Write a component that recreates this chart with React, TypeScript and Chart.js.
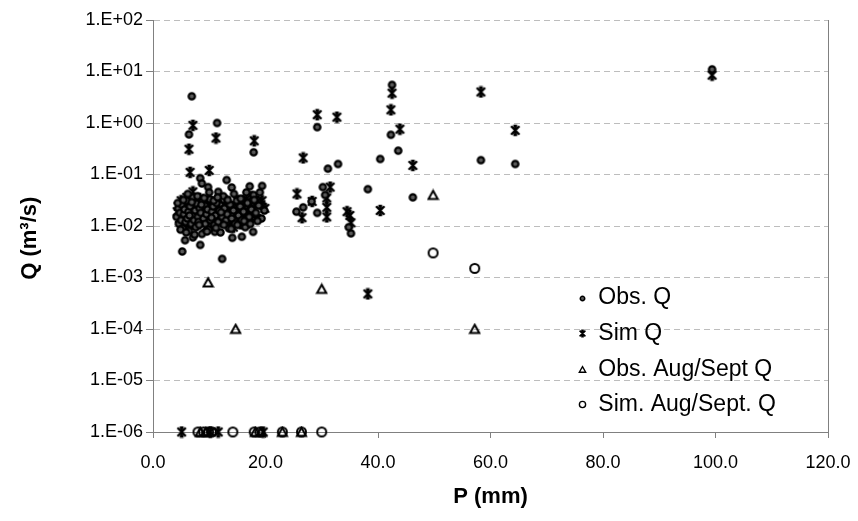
import React, { useEffect, useRef } from "react";
import { Chart, registerables } from "chart.js";

Chart.register(...registerables);

const FONT = '"Liberation Sans", Arial, Helvetica, sans-serif';

const xTickValues = [0, 20, 40, 60, 80, 100, 120];
const yTickValues = [1e-6, 1e-5, 1e-4, 1e-3, 1e-2, 1e-1, 1, 10, 100];
const yTickLabels = ["1.E-06", "1.E-05", "1.E-04", "1.E-03", "1.E-02", "1.E-01", "1.E+00", "1.E+01", "1.E+02"];
const seriesNames = ["Obs. Q", "Sim Q", "Obs. Aug/Sept Q", "Sim. Aug/Sept. Q"];

// Observed Q (m3/s) vs P (mm)
const obsP = [
  99.4, 42.5, 6.9, 11.4, 29.2, 6.4, 42.3, 43.6, 17.9, 40.4, 58.3, 64.4, 32.9, 31.1, 19.4, 30.2, 38.2, 46.2,
  28.2, 26.7, 29.2, 25.5, 30.6, 35.2, 34.8, 17.8, 5.2, 12.3,
  8.4, 13.1, 8.7, 17.2, 14.0, 11.6, 9.8, 15.8, 14.1, 8.4, 7.1, 5.7, 11.0,
  4.2, 4.5, 4.6, 4.8, 5.0, 5.1, 5.3, 5.5, 5.6, 5.8, 6.0, 6.1, 6.3, 6.4, 6.6, 6.8, 7.0, 7.1, 7.3, 7.5,
  7.6, 7.8, 8.0, 8.1, 8.3, 8.5, 8.7, 8.8, 9.0, 9.2, 9.3, 9.5, 9.7, 9.9, 10.1, 10.2, 10.5, 10.7, 10.9,
  11.1, 11.3, 11.6, 11.8, 12.0, 12.3, 12.5, 12.7, 13.0, 13.2, 13.5, 13.7, 14.0, 14.3, 14.6, 14.9, 15.2,
  15.5, 15.8, 16.1, 16.4, 16.8, 17.1, 17.5, 17.9, 18.3, 18.8, 19.3,
  4.4, 4.9, 5.4, 5.9, 6.2, 6.5, 6.9, 7.4, 7.9, 8.2, 8.6, 9.1, 9.6, 10.0, 10.4, 10.8,
  11.2, 11.5, 12.1, 12.6, 13.3, 13.9, 14.4, 15.0, 15.6, 16.2, 16.6, 17.3, 18.0, 18.6, 19.0, 19.8,
];
const obsQ = [
  11, 5.5, 3.3, 1.0, 0.83, 0.6, 0.59, 0.29, 0.27, 0.2, 0.19, 0.16, 0.16, 0.13, 0.06, 0.057, 0.052, 0.036,
  0.03, 0.023, 0.018, 0.019, 0.04, 0.0072, 0.0095, 0.0077, 0.0032, 0.0023,
  0.085, 0.078, 0.067, 0.059, 0.056, 0.046, 0.057, 0.0062, 0.0059, 0.0043, 0.006, 0.0053, 0.0077,
  0.015, 0.022, 0.011, 0.018, 0.013, 0.026, 0.009, 0.017, 0.021, 0.012, 0.031, 0.014, 0.019, 0.008, 0.024, 0.011, 0.016, 0.036, 0.013, 0.02,
  0.0095, 0.027, 0.015, 0.012, 0.022, 0.018, 0.007, 0.03, 0.014, 0.025, 0.011, 0.017, 0.021, 0.0085, 0.033, 0.013, 0.019, 0.024, 0.0105,
  0.016, 0.028, 0.012, 0.02, 0.0075, 0.015, 0.038, 0.022, 0.013, 0.017, 0.009, 0.026, 0.014, 0.02, 0.011, 0.031, 0.016,
  0.024, 0.013, 0.019, 0.0095, 0.028, 0.015, 0.021, 0.04, 0.018, 0.025, 0.014,
  0.028, 0.0085, 0.032, 0.0075, 0.042, 0.016, 0.029, 0.0068, 0.038, 0.0105, 0.026, 0.035, 0.0078, 0.045, 0.0145, 0.031,
  0.0092, 0.036, 0.0185, 0.0105, 0.032, 0.0088, 0.042, 0.0105, 0.034, 0.0125, 0.045, 0.011, 0.032, 0.0125, 0.045, 0.02,
];

// Simulated Q (m3/s) vs P (mm)
const simP = [
  99.4, 42.5, 58.3, 42.3, 29.2, 32.7, 7.1, 43.9, 64.4, 11.2, 18.0, 6.4, 26.7, 46.2, 10.0, 6.6,
  25.6, 31.5, 28.3, 30.9, 30.9, 26.5, 30.9, 34.5, 35.2, 35.0, 40.4, 38.2, 19.4, 7.1,
  5.1, 10.2, 11.6, 19.6,
  4.3, 4.7, 4.9, 5.2, 5.4, 5.7, 5.9, 6.2, 6.5, 6.7, 6.9, 7.2, 7.4, 7.7, 7.9, 8.2, 8.4, 8.6, 8.9, 9.1,
  9.4, 9.6, 9.8, 10.0, 10.3, 10.6, 10.8, 11.0, 11.2, 11.5, 11.9, 12.2, 12.4, 12.8, 13.1, 13.4, 13.8,
  14.1, 14.5, 14.8, 15.1, 15.4, 15.7, 16.0, 16.3, 16.6, 16.9, 17.3, 17.7, 18.1, 18.6, 19.9,
  4.5, 5.0, 5.5, 6.0, 6.3, 6.8, 7.3, 7.8, 8.3, 8.8, 9.3, 9.9, 10.5, 11.1, 11.7, 12.6, 13.0,
  13.6, 14.3, 15.0, 15.6, 16.2, 17.0, 17.5, 18.4, 19.2,
];
const simQ = [
  8.5, 3.8, 4.0, 1.8, 1.45, 1.3, 0.9, 0.76, 0.72, 0.51, 0.45, 0.31, 0.21, 0.15, 0.12, 0.11,
  0.042, 0.057, 0.03, 0.035, 0.023, 0.0145, 0.015, 0.019, 0.0115, 0.016, 0.02, 0.00048, 0.031, 0.046,
  1e-6, 1e-6, 1e-6, 1e-6,
  0.019, 0.014, 0.025, 0.017, 0.012, 0.022, 0.016, 0.028, 0.013, 0.019, 0.023, 0.011, 0.017, 0.03, 0.014, 0.02, 0.026, 0.012, 0.017, 0.022,
  0.015, 0.028, 0.013, 0.019, 0.024, 0.011, 0.017, 0.021, 0.014, 0.027, 0.016, 0.012, 0.02, 0.025, 0.015, 0.018, 0.012,
  0.023, 0.017, 0.021, 0.013, 0.027, 0.018, 0.022, 0.014, 0.033, 0.019, 0.025, 0.016, 0.022, 0.03, 0.022,
  0.024, 0.031, 0.0095, 0.036, 0.0105, 0.032, 0.024, 0.0105, 0.034, 0.024, 0.0095, 0.031, 0.029, 0.0098, 0.033, 0.0135, 0.031,
  0.025, 0.0095, 0.031, 0.011, 0.028, 0.0115, 0.037, 0.014, 0.026,
];

// Observed Aug/Sept Q
const obsAugP = [8.4, 9.4, 9.8, 14.7, 18.2, 19.2, 23.0, 26.4, 30.0, 49.8, 57.2];
const obsAugQ = [1e-6, 1e-6, 8e-4, 1e-4, 1e-6, 1e-6, 1e-6, 1e-6, 6e-4, 0.04, 1e-4];

// Simulated Aug/Sept Q
const simAugP = [8.0, 9.0, 9.9, 10.4, 14.2, 18.0, 19.0, 23.0, 26.4, 30.0, 49.8, 57.2];
const simAugQ = [1e-6, 1e-6, 1e-6, 1e-6, 1e-6, 1e-6, 1e-6, 1e-6, 1e-6, 1e-6, 0.003, 0.0015];

function toPoints(xs: number[], ys: number[]) {
  return xs.map((x, i) => ({ x, y: ys[i] }));
}

function makeMarker(kind: string, k: number): HTMLCanvasElement {
  const n = Math.round(13 * k);
  const c = document.createElement("canvas");
  c.width = n;
  c.height = n;
  const g = c.getContext("2d") as CanvasRenderingContext2D;
  g.scale(n / 13, n / 13);
  g.strokeStyle = "#000";
  g.lineWidth = 2;
  g.beginPath();
  if (kind === "obs") {
    g.arc(6.5, 6.5, 3.2, 0, Math.PI * 2);
    g.fillStyle = "#5a5a5a";
    g.fill();
    g.lineWidth = 2.2;
    g.stroke();
  } else if (kind === "sim") {
    g.lineWidth = 2.3;
    g.moveTo(2.3, 2.3);
    g.lineTo(10.7, 10.7);
    g.moveTo(10.7, 2.3);
    g.lineTo(2.3, 10.7);
    g.moveTo(6.5, 1.8);
    g.lineTo(6.5, 11.2);
    g.moveTo(4.6, 2);
    g.lineTo(8.4, 2);
    g.moveTo(4.6, 11);
    g.lineTo(8.4, 11);
    g.stroke();
  } else if (kind === "tri") {
    g.moveTo(6.5, 2.3);
    g.lineTo(11.1, 10.5);
    g.lineTo(1.9, 10.5);
    g.closePath();
    g.stroke();
  } else {
    g.arc(6.5, 6.5, 4.5, 0, Math.PI * 2);
    g.stroke();
  }
  return c;
}

export default function App() {
  const ref = useRef<HTMLCanvasElement | null>(null);

  useEffect(() => {
    if (!ref.current) return;
    const kinds = ["obs", "sim", "tri", "circ"];
    const plotMarkers = kinds.map((k) => makeMarker(k, 1));
    const legendMarkers = kinds.map((k) => makeMarker(k, 0.7));

    const frame = {
      id: "plotFrame",
      afterDraw(chart: any) {
        const { ctx, chartArea } = chart;
        ctx.save();
        ctx.strokeStyle = "#808080";
        ctx.lineWidth = 1;
        ctx.beginPath();
        ctx.moveTo(Math.round(chartArea.right) + 0.5, chartArea.top);
        ctx.lineTo(Math.round(chartArea.right) + 0.5, chartArea.bottom);
        ctx.stroke();
        ctx.restore();
      },
    };

    const insideLegend = {
      id: "insideLegend",
      afterDraw(chart: any) {
        const { ctx, chartArea } = chart;
        const w = chartArea.right - chartArea.left;
        const h = chartArea.bottom - chartArea.top;
        const mx = chartArea.left + w * 0.636;
        const tx = mx + 16;
        const y0 = chartArea.top + h * 0.675;
        const step = 35.6;
        ctx.save();
        ctx.font = `23px ${FONT}`;
        ctx.fillStyle = "#000";
        ctx.textAlign = "left";
        ctx.textBaseline = "middle";
        chart.data.datasets.forEach((ds: any, i: number) => {
          const y = y0 + step * i;
          const img = legendMarkers[i];
          ctx.drawImage(img, Math.round(mx - img.width / 2), Math.round(y - img.height / 2));
          ctx.fillText(ds.label, tx, y);
        });
        ctx.restore();
      },
    };

    const chart = new Chart(ref.current, {
      type: "scatter",
      data: {
        datasets: [
          { label: seriesNames[0], data: toPoints(obsP, obsQ), pointStyle: plotMarkers[0] as any, pointRadius: 5, clip: false as any },
          { label: seriesNames[1], data: toPoints(simP, simQ), pointStyle: plotMarkers[1] as any, pointRadius: 5, clip: false as any },
          { label: seriesNames[2], data: toPoints(obsAugP, obsAugQ), pointStyle: plotMarkers[2] as any, pointRadius: 5, clip: false as any },
          { label: seriesNames[3], data: toPoints(simAugP, simAugQ), pointStyle: plotMarkers[3] as any, pointRadius: 5, clip: false as any },
        ],
      },
      options: {
        responsive: false,
        animation: false,
        layout: { padding: { top: 20, right: 30, bottom: 0, left: 0 } },
        plugins: { legend: { display: false }, tooltip: { enabled: false } },
        scales: {
          x: {
            type: "linear",
            min: 0,
            max: 120,
            afterBuildTicks: (s: any) => {
              s.ticks = xTickValues.map((v) => ({ value: v }));
            },
            afterFit: (s: any) => {
              s.height = 89;
              s.paddingLeft = 20;
              s.paddingRight = 20;
            },
            ticks: {
              callback: (v: any) => Number(v).toFixed(1),
              font: { family: FONT, size: 18 },
              color: "#000",
              padding: 14,
              maxRotation: 0,
              autoSkip: false,
            },
            grid: { drawOnChartArea: false, drawTicks: true, tickLength: 6, color: "#808080" },
            border: { display: true, color: "#808080", width: 1 },
            title: {
              display: true,
              text: "P (mm)",
              color: "#000",
              font: { family: FONT, size: 22, weight: "bold" },
              padding: { top: 0, bottom: 11 },
            },
          },
          y: {
            type: "logarithmic",
            min: 1e-6,
            max: 100,
            afterBuildTicks: (s: any) => {
              s.ticks = yTickValues.map((v) => ({ value: v }));
            },
            afterFit: (s: any) => {
              s.width = 153;
            },
            ticks: {
              callback: (_v: any, i: number) => yTickLabels[i],
              font: { family: FONT, size: 18 },
              color: "#000",
              padding: 3,
              autoSkip: false,
            },
            grid: {
              color: (c: any) => (c.tick && c.tick.value === 1e-6 ? "rgba(0,0,0,0)" : "#bdbdbd"),
              tickColor: "#808080",
              tickLength: 7,
              lineWidth: 1,
            },
            border: { display: true, color: "#808080", width: 1, dash: [6, 4] },
            title: {
              display: true,
              text: "Q (m³/s)    ",
              color: "#000",
              font: { family: FONT, size: 22, weight: "bold" },
              padding: { top: 17, bottom: 0 },
            },
          },
        },
      } as any,
      plugins: [frame, insideLegend],
    });
    return () => chart.destroy();
  }, []);

  return (
    <div style={{ position: "fixed", left: 0, top: 0, width: 858, height: 521, background: "#fff" }}>
      <canvas ref={ref} width={858} height={521} />
    </div>
  );
}
